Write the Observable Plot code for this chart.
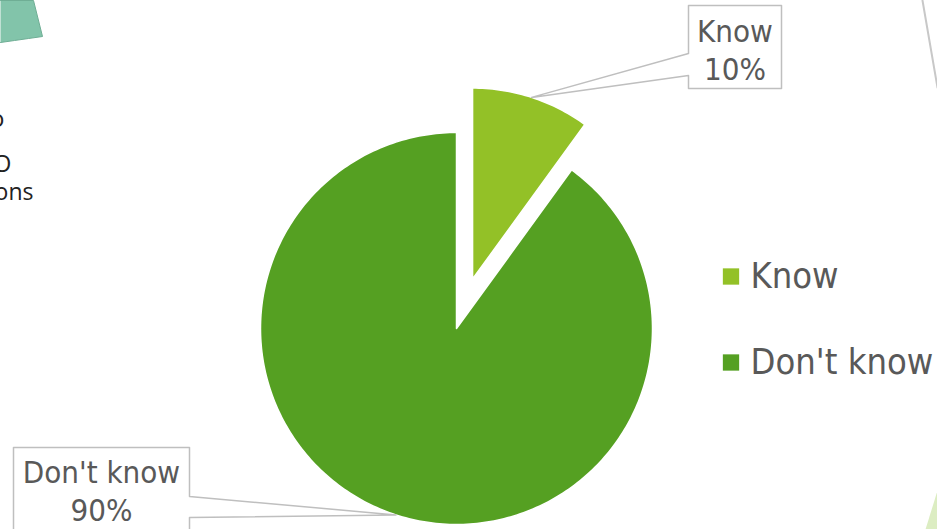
<!DOCTYPE html>
<html>
<head>
<meta charset="utf-8">
<script src="https://cdn.jsdelivr.net/npm/d3@7"></script>
<script src="https://cdn.jsdelivr.net/npm/@observablehq/plot@0.6"></script>
<style>
  html, body { margin: 0; padding: 0; background: #ffffff; overflow: hidden; }
  #chart svg { display: block; }
</style>
</head>
<body>
<div id="chart"></div>
<script>
// ---- data ----
const categories = ["Know", "Don't know"];
const values = [10, 90];
const colors = ["#93c127", "#55a022"];
const explode = [52, 0];          // pixel offset of exploded slice
const sliceRadius = [191, 196];

// fragments of neighbouring slide content (partly clipped)
const fragmentTexts = ["to", "TO", "questions"];

// ---- layout ----
const W = 937, H = 529;
const CX = 456, CY = 328;
const rad = d => d * Math.PI / 180;
const total = d3.sum(values);

// slices
let acc = 0;
const slices = categories.map((c, i) => {
  const a0 = acc / total * 360;
  acc += values[i];
  const a1 = acc / total * 360;
  const mid = (a0 + a1) / 2;
  const ox = CX + explode[i] * Math.sin(rad(mid));
  const oy = CY - explode[i] * Math.cos(rad(mid));
  return {cat: c, value: values[i], a0, a1, mid, ox, oy, r: sliceRadius[i]};
});

const slicePts = [];
for (const s of slices) {
  slicePts.push({cat: s.cat, x: s.ox, y: s.oy});
  const n = Math.ceil(s.a1 - s.a0);
  for (let k = 0; k <= n; ++k) {
    const a = s.a0 + (s.a1 - s.a0) * k / n;
    slicePts.push({cat: s.cat, x: s.ox + s.r * Math.sin(rad(a)), y: s.oy - s.r * Math.cos(rad(a))});
  }
  slicePts.push({cat: s.cat, x: s.ox, y: s.oy});
}

// label callouts
const tip = s => ({x: s.ox + s.r * Math.sin(rad(s.mid)), y: s.oy - s.r * Math.cos(rad(s.mid))});
const boxes = [
  {cat: "Know", x1: 688, y1: 5, x2: 781, y2: 88, side: "left", n1: 53, n2: 75, ty: 48},
  {cat: "Don't know", x1: 13, y1: 447, x2: 189, y2: 560, side: "right", n1: 496, n2: 517, ty: 489}
];
const calloutPts = [];
const labelRows = [];
for (const b of boxes) {
  const s = slices.find(d => d.cat === b.cat);
  const t = tip(s);
  let pts;
  if (b.side === "left") {
    pts = [[b.x1, b.y1], [b.x2, b.y1], [b.x2, b.y2], [b.x1, b.y2], [b.x1, b.n2], [t.x, t.y], [b.x1, b.n1], [b.x1, b.y1]];
  } else {
    pts = [[b.x1, b.y1], [b.x2, b.y1], [b.x2, b.n1], [t.x, t.y], [b.x2, b.n2], [b.x2, b.y2], [b.x1, b.y2], [b.x1, b.y1]];
  }
  pts.forEach(p => calloutPts.push({cat: b.cat, x: p[0], y: p[1]}));
  labelRows.push({x: (b.x1 + b.x2) / 2, y: b.ty, text: `${s.cat}\n${Math.round(s.value / total * 100)}%`});
}

// legend
const legendRows = categories.map((c, i) => ({cat: c, x: 730.5, y: 276 + i * 86}));

// fragments
const teal = [[0, 0], [33, 0], [42, 36], [28, 38], [14, 40], [0, 42]].map(p => ({x: p[0], y: p[1]}));
const greyLine = [{x: 922, y: 0}, {x: 937, y: 87}];
const lightTri = [{x: 937, y: 490}, {x: 925, y: 529}, {x: 937, y: 529}, {x: 937, y: 490}];
const fragRows = [
  {text: fragmentTexts[0], x: 4, y: 126, size: 24},
  {text: fragmentTexts[1], x: 11, y: 171, size: 24},
  {text: fragmentTexts[2], x: 33, y: 199, size: 23}
];

const font = "'DejaVu Sans Condensed', 'DejaVu Sans', sans-serif";

const chart = Plot.plot({
  width: W, height: H, margin: 0,
  x: {domain: [0, W], range: [0, W], axis: null},
  y: {domain: [0, H], range: [0, H], axis: null},
  color: {domain: categories, range: colors},
  style: {fontFamily: font, background: "#ffffff", overflow: "hidden"},
  marks: [
    // background fragments
    Plot.line(teal, {x: "x", y: "y", fill: "#82c4aa", stroke: "#6fae95", strokeWidth: 1}),
    Plot.line(greyLine, {x: "x", y: "y", stroke: "#c8c8c8", strokeWidth: 2}),
    Plot.line(lightTri, {x: "x", y: "y", fill: "#dcedc2", stroke: "none"}),
    Plot.text(fragRows, {x: "x", y: "y", text: "text", textAnchor: "end", lineAnchor: "bottom", fontSize: d => d.size, fill: "#222222", fontFamily: "'Open Sans', sans-serif"}),
    // pie slices
    Plot.line(slicePts, {x: "x", y: "y", z: "cat", fill: "cat", stroke: "#ffffff", strokeWidth: 1.5, curve: "linear"}),
    // callouts
    Plot.line(calloutPts, {x: "x", y: "y", z: "cat", fill: "#ffffff", stroke: "#bfbfbf", strokeWidth: 1.5}),
    Plot.text(labelRows, {x: "x", y: "y", text: "text", fontSize: 31, lineHeight: 1.25, fill: "#595959", textAnchor: "middle", lineAnchor: "middle", fontFamily: font}),
    // legend
    Plot.dot(legendRows, {x: "x", y: "y", symbol: "square", r: 9.2, fill: "cat", stroke: null}),
    Plot.text(legendRows, {x: d => d.x + 19.5, y: "y", text: "cat", textAnchor: "start", lineAnchor: "middle", fontSize: 36, fill: "#595959", fontFamily: font})
  ]
});
document.getElementById("chart").appendChild(chart);
</script>
</body>
</html>
